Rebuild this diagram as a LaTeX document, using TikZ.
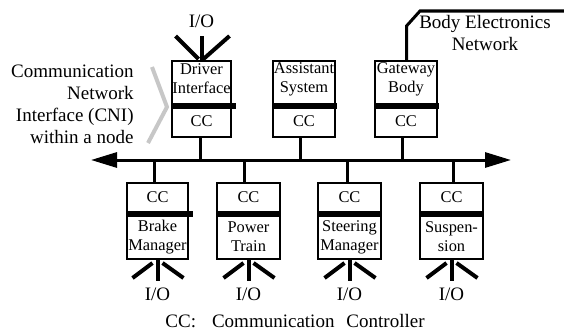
\documentclass[tikz,border=0pt]{standalone}
\usepackage{fontspec}
\setmainfont{Liberation Serif}
\usetikzlibrary{arrows.meta}
% I/O fan below a node, with its label
\newcommand\iodown[1]{%
  \draw[io] (#1.south) -- ++(0,21);
  \draw[io] ([shift={(-5,3)}]#1.south) -- ++(-20,15);
  \draw[io] ([shift={(5,3)}]#1.south) -- ++(21,15);
  \node[outer] (#1io) at ([shift={(0,34)}]#1.south) {I/O};}
\begin{document}
\begin{tikzpicture}[x=0.5pt,y=-0.5pt,
  box/.style={draw,line width=1pt,inner sep=0pt,minimum height=38pt},
  intext/.style={font=\fontsize{8.2}{9.5}\selectfont,align=center,inner sep=0pt},
  outer/.style={font=\fontsize{9.5}{11}\selectfont,inner sep=0pt},
  wire/.style={line width=1.5pt},
  io/.style={line width=2pt},
  cnibar/.style={fill=black},
  busline/.style={wire,>={Triangle[length=13pt,width=7.5pt]},<->},
]
\useasboundingbox (0,0) rectangle (564,332);

% upper row of nodes
\node[box,minimum width=29.5pt] (drv) at (201.5,99) {};
\node[box,minimum width=31pt] (ast) at (304,99) {};
\node[box,minimum width=31pt] (gw) at (406,99) {};
\fill[cnibar] (171,103) rectangle (236,108.5);
\fill[cnibar] (272,103) rectangle (337,108.5);
\fill[cnibar] (375,103) rectangle (439,108.5);
\node[intext] (drvt) at (201.5,79) {Driver\\Interface};
\node[intext] (astt) at (304,79) {Assistant\\System};
\node[intext] (gwt) at (406,79) {Gateway\\Body};
\node[intext] (drvc) at (201.5,121.5) {CC};
\node[intext] (astc) at (304,121.5) {CC};
\node[intext] (gwc) at (406,121.5) {CC};

% lower row of nodes
\node[box,minimum width=30.5pt] (brk) at (157.5,221) {};
\node[box,minimum width=31.5pt] (pwr) at (248.5,221) {};
\node[box,minimum width=31.5pt] (str) at (349.5,221) {};
\node[box,minimum width=31.5pt] (sus) at (451.5,221) {};
\fill[cnibar] (127,211) rectangle (193,217);
\fill[cnibar] (216,211) rectangle (281,217);
\fill[cnibar] (318,211) rectangle (382,217);
\fill[cnibar] (419,211) rectangle (484,217);
\node[intext] (brkc) at (157.5,197.5) {CC};
\node[intext] (pwrc) at (248.5,197.5) {CC};
\node[intext] (strc) at (349.5,197.5) {CC};
\node[intext] (susc) at (451.5,197.5) {CC};
\node[intext] (brkt) at (157.5,237) {Brake\\Manager};
\node[intext] (pwrt) at (248.5,237) {Power\\Train};
\node[intext] (strt) at (349.5,237) {Steering\\Manager};
\node[intext] (sust) at (451.5,237) {Suspen-\\sion};

% communication bus
\coordinate (busL) at (91,160);
\coordinate (busR) at (511,160);
\draw[busline] (busL) -- (busR);

% node-to-bus connections
\draw[wire] ([xshift=-0.75pt]drv.south) -- ([xshift=-0.75pt]drv.south |- busL);
\draw[wire] ([xshift=-2pt]ast.south) -- ([xshift=-2pt]ast.south |- busL);
\draw[wire] ([xshift=-2pt]gw.south) -- ([xshift=-2pt]gw.south |- busL);
\draw[wire] ([xshift=-1.75pt]brk.north) -- ([xshift=-1.75pt]brk.north |- busL);
\draw[wire] ([xshift=-2.25pt]pwr.north) -- ([xshift=-2.25pt]pwr.north |- busL);
\draw[wire] ([xshift=-1.25pt]str.north) -- ([xshift=-1.25pt]str.north |- busL);
\draw[wire] ([xshift=0.75pt]sus.north) -- ([xshift=0.75pt]sus.north |- busL);

% gateway link to the body electronics network
\coordinate (benA) at (420,11);
\coordinate (benB) at (564,11);
\draw[wire] ([xshift=0.25pt]gw.north) -- ++(0,-34) -- (benA) -- (benB);
\node[outer,align=center] (ben) at (485,33) {Body Electronics\\Network};

% I/O of the driver interface
\draw[io] (drv.north) -- ++(0,-24);
\draw[io] ([shift={(-3,-1)}]drv.north) -- ++(-23,-23);
\draw[io] ([shift={(2,-1)}]drv.north) -- ++(26,-23);
\node[outer] (drvio) at ([shift={(0,-39)}]drv.north) {I/O};

% I/O of the lower nodes
\iodown{brk}
\iodown{pwr}
\iodown{str}
\iodown{sus}

% CNI annotation
\node[outer,align=right,anchor=east] (cni) at (134,104)
  {Communication\\Network\hspace*{3pt}\\Interface (CNI)\\within a node};
\coordinate (chA) at (152,67);
\coordinate (chB) at (167,107);
\coordinate (chC) at (148,143);
\draw[line width=2pt,black!22] (chA) -- (chB) -- (chC);

% legend
\node[outer] (cap) at (295,321) {CC:\hspace{8pt}Communication\hspace{6pt}Controller};
\end{tikzpicture}
\end{document}
